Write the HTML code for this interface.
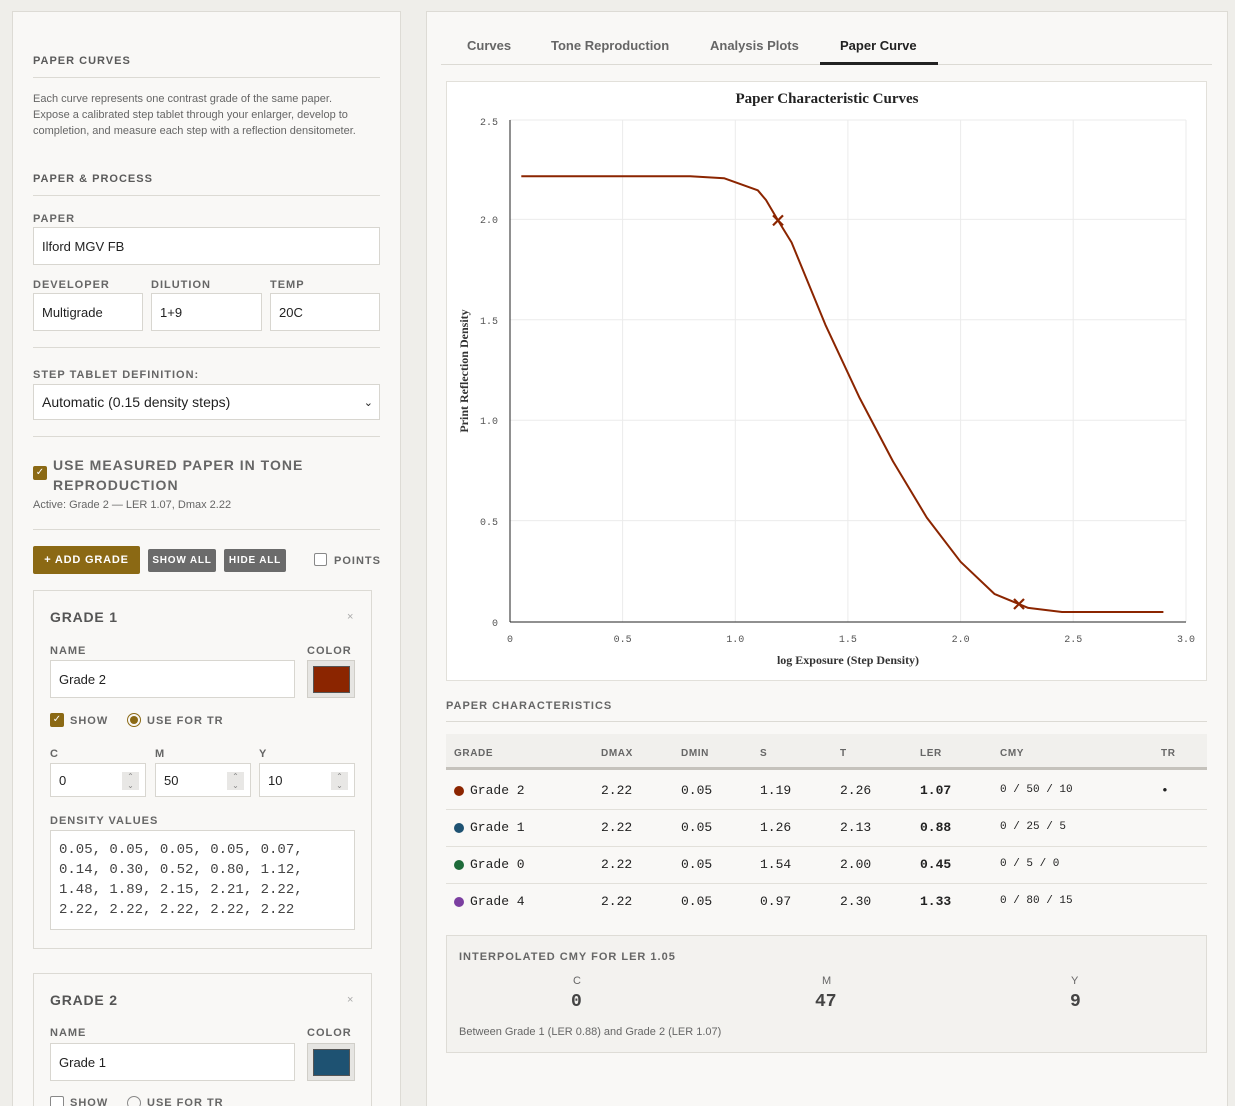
<!DOCTYPE html>
<html><head><meta charset="utf-8"><style>
*{box-sizing:border-box;margin:0;padding:0}
html{width:1235px;height:1106px;overflow:hidden}
body{width:1235px;height:1106px;overflow:hidden;background:#efeeea;font-family:"Liberation Sans",sans-serif;color:#3a3a3a;position:relative}
.a{position:absolute}
.panel{position:absolute;background:#f9f8f6;border:1px solid #dddbd5}
.h{font-size:11px;font-weight:bold;letter-spacing:1px;color:#5a5a5a}
.lbl{font-size:11px;font-weight:bold;letter-spacing:1px;color:#666}
.inp{position:absolute;background:#fff;border:1px solid #d8d6d0;font-size:13px;color:#222;padding-left:8px;display:flex;align-items:center}
.hr{position:absolute;height:1px;background:#dcdad4}
.mono{font-family:"Liberation Mono",monospace}
.btn{position:absolute;color:#fff;font-size:10px;font-weight:bold;letter-spacing:.8px;display:flex;align-items:center;justify-content:center;border-radius:2px}
.cb{position:absolute;width:13px;height:13px;border:1px solid #888;border-radius:2px;background:#fff}
.cbon{background:#8b6914;border-color:#8b6914;color:#fff;font-size:10px;line-height:12px;text-align:center}
.spin{position:absolute;right:6px;top:8px;width:17px;height:18px;background:#e8e7e5;font-size:8px;color:#888;text-align:center;line-height:9px}
</style></head><body>

<div class="panel" style="left:12px;top:11px;width:389px;height:1200px"></div>
<div class="a h" style="left:33px;top:55px">PAPER CURVES</div>
<div class="hr" style="left:33px;top:77px;width:347px"></div>
<div class="a" style="left:33px;top:91px;width:332px;font-size:11px;line-height:16px;color:#666">Each curve represents one contrast grade of the same paper. Expose a calibrated step tablet through your enlarger, develop to completion, and measure each step with a reflection densitometer.</div>
<div class="a h" style="left:33px;top:173px">PAPER &amp; PROCESS</div>
<div class="hr" style="left:33px;top:195px;width:347px"></div>
<div class="a lbl" style="left:33px;top:213px">PAPER</div>
<div class="inp" style="left:33px;top:227px;width:347px;height:38px">Ilford MGV FB</div>
<div class="a lbl" style="left:33px;top:279px">DEVELOPER</div>
<div class="a lbl" style="left:151px;top:279px">DILUTION</div>
<div class="a lbl" style="left:270px;top:279px">TEMP</div>
<div class="inp" style="left:33px;top:293px;width:110px;height:38px">Multigrade</div>
<div class="inp" style="left:151px;top:293px;width:111px;height:38px">1+9</div>
<div class="inp" style="left:270px;top:293px;width:110px;height:38px">20C</div>
<div class="hr" style="left:33px;top:347px;width:347px"></div>
<div class="a lbl" style="left:33px;top:369px">STEP TABLET DEFINITION:</div>
<div class="inp" style="left:33px;top:384px;width:347px;height:36px;font-size:14px">Automatic (0.15 density steps)<span style="position:absolute;right:6px;font-size:11px">&#8964;</span></div>
<div class="hr" style="left:33px;top:436px;width:347px"></div>
<div class="cb cbon" style="left:33px;top:466px;width:14px;height:14px">✓</div>
<div class="a" style="left:53px;top:455px;font-size:14px;font-weight:bold;letter-spacing:1px;color:#666;line-height:20px">USE MEASURED PAPER IN TONE<br>REPRODUCTION</div>
<div class="a" style="left:33px;top:499px;font-size:11px;color:#666">Active: Grade 2 — LER 1.07, Dmax 2.22</div>
<div class="hr" style="left:33px;top:529px;width:347px"></div>
<div class="btn" style="left:33px;top:546px;width:107px;height:28px;background:#8b6914;font-size:11px">+ ADD GRADE</div>
<div class="btn" style="left:148px;top:549px;width:68px;height:23px;background:#6b6b6b">SHOW ALL</div>
<div class="btn" style="left:224px;top:549px;width:62px;height:23px;background:#6b6b6b">HIDE ALL</div>
<div class="cb" style="left:314px;top:553px"></div>
<div class="a lbl" style="left:334px;top:555px">POINTS</div>

<div class="a" style="left:33px;top:590px;width:339px;height:359px;border:1px solid #dcdad4;background:#f9f8f6"></div>
<div class="a" style="left:50px;top:609px;font-size:14px;font-weight:bold;letter-spacing:.8px;color:#555">GRADE 1</div>
<div class="a" style="left:347px;top:611px;font-size:11px;color:#aaa">×</div>
<div class="a lbl" style="left:50px;top:645px">NAME</div>
<div class="a lbl" style="left:307px;top:645px">COLOR</div>
<div class="inp" style="left:50px;top:660px;width:245px;height:38px">Grade 2</div>
<div class="a" style="left:307px;top:660px;width:48px;height:38px;background:#e6e5e2;border:1px solid #d0cec8"><div style="margin:5px;width:37px;height:27px;background:#8b2500;border:1px solid #555"></div></div>
<div class="cb cbon" style="left:50px;top:713px;width:14px;height:14px">✓</div>
<div class="a lbl" style="left:70px;top:715px">SHOW</div>
<div class="a" style="left:127px;top:713px;width:14px;height:14px;border:1px solid #8b6914;border-radius:50%"><div style="margin:2px;width:8px;height:8px;border-radius:50%;background:#8b6914"></div></div>
<div class="a lbl" style="left:147px;top:715px">USE FOR TR</div>
<div class="a lbl" style="left:50px;top:748px">C</div>
<div class="a lbl" style="left:155px;top:748px">M</div>
<div class="a lbl" style="left:259px;top:748px">Y</div>
<div class="inp" style="left:50px;top:763px;width:96px;height:34px">0<div class="spin">⌃<br>⌄</div></div>
<div class="inp" style="left:155px;top:763px;width:96px;height:34px">50<div class="spin">⌃<br>⌄</div></div>
<div class="inp" style="left:259px;top:763px;width:96px;height:34px">10<div class="spin">⌃<br>⌄</div></div>
<div class="a lbl" style="left:50px;top:815px">DENSITY VALUES</div>
<div class="a mono" style="left:50px;top:830px;width:305px;height:100px;background:#fff;border:1px solid #d8d6d0;padding:9px 8px;font-size:14px;line-height:20px;color:#444">0.05, 0.05, 0.05, 0.05, 0.07,<br>0.14, 0.30, 0.52, 0.80, 1.12,<br>1.48, 1.89, 2.15, 2.21, 2.22,<br>2.22, 2.22, 2.22, 2.22, 2.22</div>

<div class="a" style="left:33px;top:973px;width:339px;height:200px;border:1px solid #dcdad4;background:#f9f8f6"></div>
<div class="a" style="left:50px;top:992px;font-size:14px;font-weight:bold;letter-spacing:.8px;color:#555">GRADE 2</div>
<div class="a" style="left:347px;top:994px;font-size:11px;color:#aaa">×</div>
<div class="a lbl" style="left:50px;top:1027px">NAME</div>
<div class="a lbl" style="left:307px;top:1027px">COLOR</div>
<div class="inp" style="left:50px;top:1043px;width:245px;height:38px">Grade 1</div>
<div class="a" style="left:307px;top:1043px;width:48px;height:38px;background:#e6e5e2;border:1px solid #d0cec8"><div style="margin:5px;width:37px;height:27px;background:#1e5272;border:1px solid #555"></div></div>
<div class="cb" style="left:50px;top:1096px;width:14px;height:14px"></div>
<div class="a lbl" style="left:70px;top:1097px">SHOW</div>
<div class="a" style="left:127px;top:1096px;width:14px;height:14px;border:1px solid #888;border-radius:50%"></div>
<div class="a lbl" style="left:147px;top:1097px">USE FOR TR</div>

<div class="panel" style="left:426px;top:11px;width:802px;height:1200px"></div>
<div class="a" style="left:467px;top:38px;font-size:13px;font-weight:bold;color:#666">Curves</div>
<div class="a" style="left:551px;top:38px;font-size:13px;font-weight:bold;color:#666">Tone Reproduction</div>
<div class="a" style="left:710px;top:38px;font-size:13px;font-weight:bold;color:#666">Analysis Plots</div>
<div class="a" style="left:840px;top:38px;font-size:13px;font-weight:bold;color:#222">Paper Curve</div>
<div class="hr" style="left:441px;top:64px;width:771px"></div>
<div class="a" style="left:820px;top:62px;width:118px;height:3px;background:#222"></div>

<svg class="a" style="left:446px;top:81px" width="761" height="600" viewBox="446 81 761 600">
<rect x="446.5" y="81.5" width="760" height="599" fill="#fff" stroke="#e2e0da"/>
<g stroke="#ebebeb" stroke-width="1">
<line x1="622.6" y1="120" x2="622.6" y2="622"/><line x1="735.3" y1="120" x2="735.3" y2="622"/><line x1="847.9" y1="120" x2="847.9" y2="622"/><line x1="960.6" y1="120" x2="960.6" y2="622"/><line x1="1073.2" y1="120" x2="1073.2" y2="622"/><line x1="1186" y1="120" x2="1186" y2="622"/>
<line x1="510" y1="520.6" x2="1186" y2="520.6"/><line x1="510" y1="420.2" x2="1186" y2="420.2"/><line x1="510" y1="319.8" x2="1186" y2="319.8"/><line x1="510" y1="219.4" x2="1186" y2="219.4"/><line x1="510" y1="120" x2="1186" y2="120"/>
</g>
<line x1="510" y1="120" x2="510" y2="622" stroke="#222"/>
<line x1="510" y1="622" x2="1186" y2="622" stroke="#222"/>
<g font-family="Liberation Mono,monospace" font-size="10" fill="#555">
<text x="498" y="125" text-anchor="end">2.5</text><text x="498" y="223" text-anchor="end">2.0</text><text x="498" y="324" text-anchor="end">1.5</text><text x="498" y="424" text-anchor="end">1.0</text><text x="498" y="525" text-anchor="end">0.5</text><text x="498" y="626" text-anchor="end">0</text>
<g text-anchor="middle"><text x="510" y="642">0</text><text x="622.6" y="642">0.5</text><text x="735.3" y="642">1.0</text><text x="847.9" y="642">1.5</text><text x="960.6" y="642">2.0</text><text x="1073.2" y="642">2.5</text><text x="1186" y="642">3.0</text></g>
</g>
<text x="827" y="103" text-anchor="middle" font-family="Liberation Serif,serif" font-weight="bold" font-size="15" fill="#222">Paper Characteristic Curves</text>
<text x="848" y="664" text-anchor="middle" font-family="Liberation Serif,serif" font-weight="bold" font-size="12" fill="#333">log Exposure (Step Density)</text>
<text transform="translate(468,371) rotate(-90)" text-anchor="middle" font-family="Liberation Serif,serif" font-weight="bold" font-size="12" fill="#333">Print Reflection Density</text>
<polyline fill="none" stroke="#8b2500" stroke-width="2" stroke-linejoin="round" points="521.3,176.2 690.2,176.2 724,178.2 757.8,190.3 766,200 778,220.4 791.6,242.5 825.4,324.8 859.2,397.1 893,461.4 926.8,517.6 960.6,561.8 994.4,593.9 1028.2,607.9 1062,612 1163.4,612"/>
<g stroke="#8b2500" stroke-width="2.2"><line x1="773" y1="215.4" x2="783" y2="225.4"/><line x1="783" y1="215.4" x2="773" y2="225.4"/><line x1="1014" y1="599" x2="1024" y2="609"/><line x1="1024" y1="599" x2="1014" y2="609"/></g>
</svg>

<div class="a h" style="left:446px;top:700px;color:#666">PAPER CHARACTERISTICS</div>
<div class="hr" style="left:446px;top:721px;width:761px"></div>
<div class="a" style="left:446px;top:734px;width:761px;height:36px;background:#f1f0ed;border-bottom:3px solid #c5c2bc"></div>
<div class="a" style="font-size:10px;font-weight:bold;letter-spacing:.6px;color:#666;top:748px;left:454px">GRADE</div>
<div class="a" style="font-size:10px;font-weight:bold;letter-spacing:.6px;color:#666;top:748px;left:601px">DMAX</div>
<div class="a" style="font-size:10px;font-weight:bold;letter-spacing:.6px;color:#666;top:748px;left:681px">DMIN</div>
<div class="a" style="font-size:10px;font-weight:bold;letter-spacing:.6px;color:#666;top:748px;left:760px">S</div>
<div class="a" style="font-size:10px;font-weight:bold;letter-spacing:.6px;color:#666;top:748px;left:840px">T</div>
<div class="a" style="font-size:10px;font-weight:bold;letter-spacing:.6px;color:#666;top:748px;left:920px">LER</div>
<div class="a" style="font-size:10px;font-weight:bold;letter-spacing:.6px;color:#666;top:748px;left:1000px">CMY</div>
<div class="a" style="font-size:10px;font-weight:bold;letter-spacing:.6px;color:#666;top:748px;left:1161px">TR</div>

<div class="a mono" style="left:446px;top:773px;width:761px;font-size:13px;color:#222">
<div style="position:relative;height:37px;border-bottom:1px solid #e2e0da"><span class="a" style="left:8px;top:13px;width:10px;height:10px;border-radius:50%;background:#8b2500"></span><span class="a" style="left:24px;top:10px">Grade 2</span><span class="a" style="left:155px;top:10px">2.22</span><span class="a" style="left:235px;top:10px">0.05</span><span class="a" style="left:314px;top:10px">1.19</span><span class="a" style="left:394px;top:10px">2.26</span><span class="a" style="left:474px;top:10px;font-weight:bold">1.07</span><span class="a" style="left:554px;top:11px;font-size:11px">0 / 50 / 10</span><span class="a" style="left:715px;top:10px">•</span></div>
<div style="position:relative;height:37px;border-bottom:1px solid #e2e0da"><span class="a" style="left:8px;top:13px;width:10px;height:10px;border-radius:50%;background:#1e5272"></span><span class="a" style="left:24px;top:10px">Grade 1</span><span class="a" style="left:155px;top:10px">2.22</span><span class="a" style="left:235px;top:10px">0.05</span><span class="a" style="left:314px;top:10px">1.26</span><span class="a" style="left:394px;top:10px">2.13</span><span class="a" style="left:474px;top:10px;font-weight:bold">0.88</span><span class="a" style="left:554px;top:11px;font-size:11px">0 / 25 / 5</span></div>
<div style="position:relative;height:37px;border-bottom:1px solid #e2e0da"><span class="a" style="left:8px;top:13px;width:10px;height:10px;border-radius:50%;background:#1e6b3a"></span><span class="a" style="left:24px;top:10px">Grade 0</span><span class="a" style="left:155px;top:10px">2.22</span><span class="a" style="left:235px;top:10px">0.05</span><span class="a" style="left:314px;top:10px">1.54</span><span class="a" style="left:394px;top:10px">2.00</span><span class="a" style="left:474px;top:10px;font-weight:bold">0.45</span><span class="a" style="left:554px;top:11px;font-size:11px">0 / 5 / 0</span></div>
<div style="position:relative;height:37px"><span class="a" style="left:8px;top:13px;width:10px;height:10px;border-radius:50%;background:#7b3fa0"></span><span class="a" style="left:24px;top:10px">Grade 4</span><span class="a" style="left:155px;top:10px">2.22</span><span class="a" style="left:235px;top:10px">0.05</span><span class="a" style="left:314px;top:10px">0.97</span><span class="a" style="left:394px;top:10px">2.30</span><span class="a" style="left:474px;top:10px;font-weight:bold">1.33</span><span class="a" style="left:554px;top:11px;font-size:11px">0 / 80 / 15</span></div>
</div>

<div class="a" style="left:446px;top:935px;width:761px;height:118px;background:#f3f2ef;border:1px solid #dedcd6"></div>
<div class="a h" style="left:459px;top:951px;color:#666">INTERPOLATED CMY FOR LER 1.05</div>
<div class="a" style="left:573px;top:975px;font-size:11px;color:#666">C</div>
<div class="a" style="left:822px;top:975px;font-size:11px;color:#666">M</div>
<div class="a" style="left:1071px;top:975px;font-size:11px;color:#666">Y</div>
<div class="a mono" style="left:571px;top:992px;font-size:18px;font-weight:bold;color:#444">0</div>
<div class="a mono" style="left:815px;top:992px;font-size:18px;font-weight:bold;color:#444">47</div>
<div class="a mono" style="left:1070px;top:992px;font-size:18px;font-weight:bold;color:#444">9</div>
<div class="a" style="left:459px;top:1026px;font-size:11px;color:#666">Between Grade 1 (LER 0.88) and Grade 2 (LER 1.07)</div>
</body></html>
